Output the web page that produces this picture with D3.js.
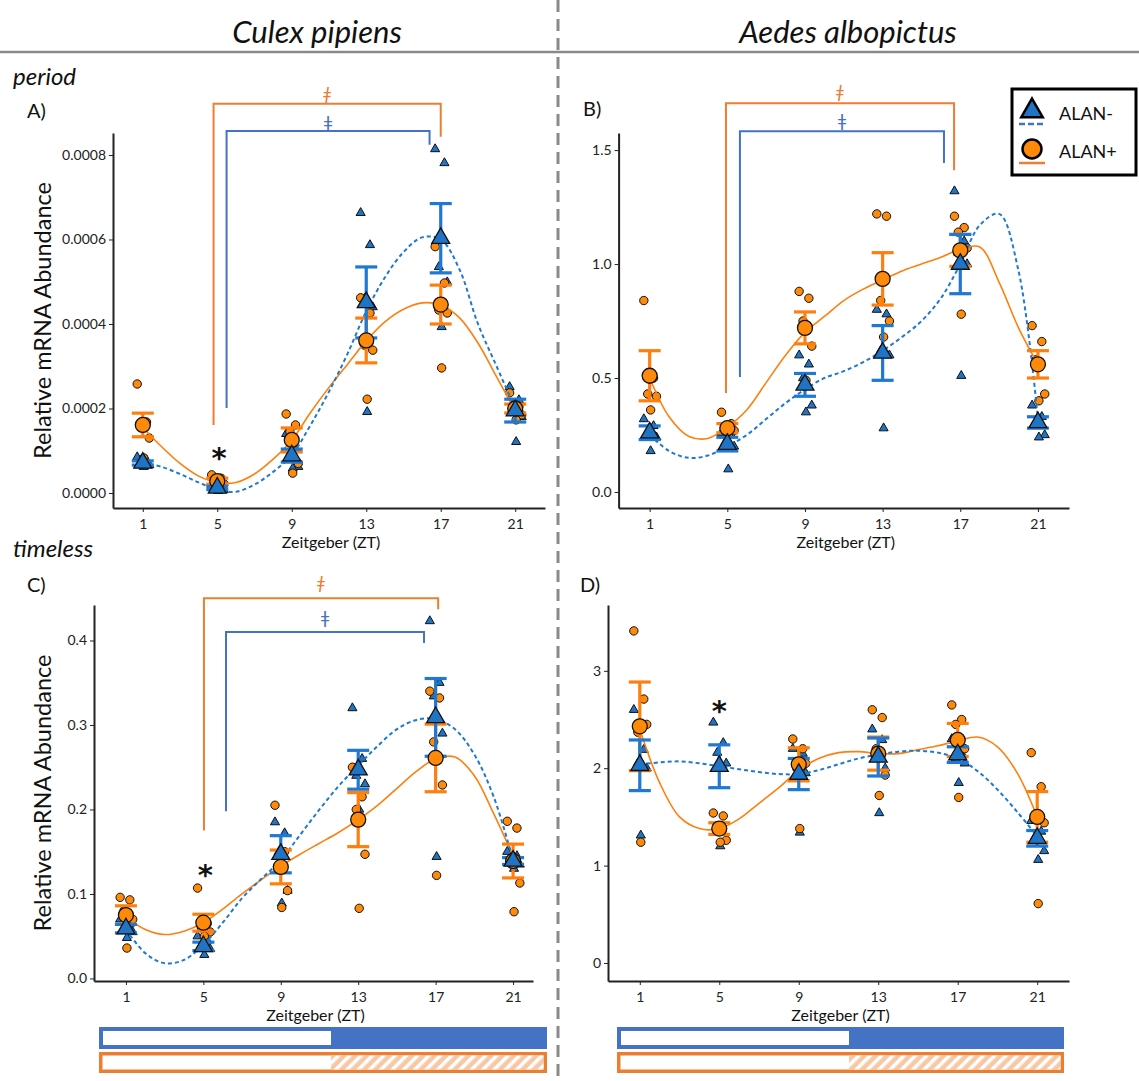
<!DOCTYPE html>
<meta charset="utf-8">
<style>
body { margin: 0; background: #fff; }
text { font-family: Lato, "Open Sans", sans-serif; fill: #111; }
.tick text { font-size: 14px; fill: #222; }
.axis path, .axis line { stroke: #222; }
</style>
<svg width="1139" height="1081"></svg>
<script src="https://d3js.org/d3.v7.min.js"></script>
<script>

// ---- data ----
var zt = [1, 5, 9, 13, 17, 21];
var curveZt = [1,2,3,4,5,6,7,8,9,10,11,12,13,14,15,16,17,18,19,20,21];

// A: Culex pipiens, period
var perCulMinusMean = [0.71e-4, 0.12e-4, 0.885e-4, 4.51e-4, 6.03e-4, 1.95e-4];
var perCulMinusSe   = [0.05e-4, 0.04e-4, 0.155e-4, 0.84e-4, 0.82e-4, 0.27e-4];
var perCulPlusMean  = [1.61e-4, 0.28e-4, 1.255e-4, 3.61e-4, 4.46e-4, 2.0e-4];
var perCulPlusSe    = [0.28e-4, 0.07e-4, 0.285e-4, 0.53e-4, 0.46e-4, 0.105e-4];
var perCulMinusPts = [[0.85e-4,0.78e-4,0.72e-4,0.66e-4,0.62e-4],[0.18e-4,0.14e-4,0.1e-4,0.07e-4,0.05e-4],
  [1.4e-4,1.05e-4,0.9e-4,0.62e-4,0.58e-4],[6.63e-4,5.87e-4,4.6e-4,4.4e-4,1.92e-4],
  [8.14e-4,7.81e-4,5.35e-4,4.99e-4,3.93e-4],[2.51e-4,2.2e-4,1.9e-4,1.8e-4,1.21e-4]];
var perCulPlusPts = [[2.58e-4,1.68e-4,1.55e-4,1.3e-4,0.83e-4],[0.43e-4,0.35e-4,0.3e-4,0.22e-4,0.18e-4],
  [1.87e-4,1.61e-4,1.45e-4,0.7e-4,0.47e-4],[4.62e-4,4.26e-4,3.5e-4,3.38e-4,2.22e-4],
  [5.83e-4,4.97e-4,4.33e-4,4.26e-4,2.96e-4],[2.37e-4,2.05e-4,1.95e-4,1.85e-4,1.73e-4]];
var perCulMinusCurve = [0.72e-4,0.62e-4,0.45e-4,0.25e-4,0.08e-4,0.03e-4,0.2e-4,0.5e-4,0.9e-4,1.6e-4,2.4e-4,
  3.3e-4,4.3e-4,5.1e-4,5.7e-4,6.05e-4,6.0e-4,5.3e-4,4.0e-4,3.0e-4,2.0e-4];
var perCulPlusCurve = [1.55e-4,1.1e-4,0.7e-4,0.4e-4,0.25e-4,0.25e-4,0.45e-4,0.8e-4,1.25e-4,1.9e-4,2.5e-4,
  3.05e-4,3.6e-4,4.05e-4,4.35e-4,4.5e-4,4.45e-4,4.15e-4,3.55e-4,2.75e-4,1.95e-4];

// B: Aedes albopictus, period
var perAedMinusMean = [0.26, 0.21, 0.47, 0.61, 1.0, 0.305];
var perAedMinusSe   = [0.03, 0.03, 0.05, 0.12, 0.13, 0.025];
var perAedPlusMean  = [0.51, 0.28, 0.72, 0.935, 1.06, 0.56];
var perAedPlusSe    = [0.11, 0.02, 0.07, 0.115, 0.07, 0.06];
var perAedMinusPts = [[0.32,0.29,0.26,0.24,0.18],[0.26,0.25,0.22,0.2,0.10],[0.60,0.56,0.5,0.38,0.35],
  [0.80,0.78,0.62,0.6,0.28],[1.32,1.1,1.05,1.0,0.51],[0.38,0.33,0.3,0.25,0.24]];
var perAedPlusPts = [[0.84,0.5,0.43,0.42,0.36],[0.35,0.3,0.28,0.27,0.25],[0.88,0.85,0.75,0.64,0.49],
  [1.22,1.21,0.84,0.75,0.68],[1.21,1.16,1.14,1.07,0.78],[0.73,0.66,0.58,0.43,0.40]];
var perAedMinusCurve = [0.25,0.18,0.15,0.16,0.2,0.25,0.32,0.39,0.45,0.5,0.53,0.57,0.62,0.68,0.75,0.85,
  1.0,1.17,1.22,0.97,0.32];
var perAedPlusCurve = [0.5,0.33,0.245,0.235,0.285,0.36,0.48,0.6,0.7,0.77,0.84,0.89,0.93,0.97,1.0,1.03,
  1.065,1.075,0.92,0.72,0.56];

// C: Culex pipiens, timeless
var timCulMinusMean = [0.059, 0.038, 0.147, 0.247, 0.309, 0.139];
var timCulMinusSe   = [0.005, 0.005, 0.022, 0.023, 0.046, 0.004];
var timCulPlusMean  = [0.075, 0.066, 0.132, 0.188, 0.261, 0.139];
var timCulPlusSe    = [0.011, 0.01, 0.02, 0.032, 0.04, 0.02];
var timCulMinusPts = [[0.07,0.065,0.06,0.055,0.048],[0.05,0.045,0.04,0.035,0.028],[0.185,0.172,0.15,0.104,0.089],
  [0.32,0.26,0.24,0.23,0.2],[0.423,0.35,0.334,0.29,0.144],[0.15,0.145,0.14,0.135,0.13]];
var timCulPlusPts = [[0.096,0.093,0.08,0.07,0.036],[0.107,0.065,0.06,0.055,0.05],[0.205,0.15,0.13,0.104,0.084],
  [0.25,0.215,0.2,0.147,0.083],[0.34,0.332,0.28,0.229,0.122],[0.186,0.178,0.14,0.113,0.079]];
var timCulMinusCurve = [0.058,0.03,0.018,0.022,0.04,0.066,0.095,0.118,0.14,0.17,0.2,0.228,0.252,0.275,
  0.295,0.306,0.307,0.295,0.265,0.215,0.14];
var timCulPlusCurve = [0.073,0.058,0.052,0.056,0.066,0.082,0.1,0.117,0.133,0.147,0.16,0.173,0.188,0.205,
  0.225,0.245,0.26,0.262,0.24,0.195,0.145];

// D: Aedes albopictus, timeless
var timAedMinusMean = [2.03, 2.02, 1.94, 2.115, 2.14, 1.28];
var timAedMinusSe   = [0.26, 0.22, 0.16, 0.195, 0.08, 0.08];
var timAedPlusMean  = [2.43, 1.38, 2.04, 2.15, 2.29, 1.5];
var timAedPlusSe    = [0.455, 0.06, 0.17, 0.17, 0.17, 0.26];
var timAedMinusPts = [[2.6,2.19,2.05,2.0,1.31],[2.47,2.26,2.16,2.05,1.2],[2.2,2.15,1.9,1.95,1.34],
  [2.4,2.29,2.1,2.0,1.54],[2.3,2.15,2.1,2.05,1.85],[1.46,1.35,1.3,1.15,1.06]];
var timAedPlusPts = [[3.41,2.71,2.37,2.45,1.24],[1.54,1.51,1.35,1.26,1.24],[2.3,2.2,2.0,2.05,1.38],
  [2.6,2.52,2.2,1.93,1.72],[2.65,2.5,2.45,2.2,1.7],[2.16,1.81,1.5,1.44,0.61]];
var timAedMinusCurve = [2.04,2.06,2.07,2.05,2.02,1.99,1.96,1.94,1.94,1.98,2.04,2.1,2.14,2.17,2.18,2.16,
  2.1,1.97,1.78,1.55,1.3];
var timAedPlusCurve = [2.4,1.85,1.5,1.38,1.38,1.48,1.64,1.8,1.98,2.1,2.16,2.17,2.15,2.15,2.19,2.23,2.28,
  2.32,2.22,1.95,1.5];

// significance brackets (data units) and asterisks
var bracketsA = [{g:"plus", x0:4.8, x1:17.0, top:9.21e-4, l:1.61e-4, r:8.43e-4, mark:9.44e-4},
                 {g:"minus", x0:5.5, x1:16.4, top:8.57e-4, l:2.01e-4, r:8.24e-4, mark:8.76e-4}];
var bracketsB = [{g:"plus", x0:4.93, x1:16.68, top:1.706, l:0.434, r:1.412, mark:1.754},
                 {g:"minus", x0:5.65, x1:16.16, top:1.583, l:0.504, r:1.443, mark:1.63}];
var bracketsC = [{g:"plus", x0:5.03, x1:17.13, top:0.450, l:0.175, r:0.437, mark:0.468},
                 {g:"minus", x0:6.17, x1:16.4, top:0.41, l:0.198, r:0.397, mark:0.427}];
var starA = [{x:5.1, y:1.02e-4}];
var starC = [{x:5.1, y:0.132}];
var starD = [{x:5.0, y:2.67}];

var jitter = [-0.3, 0.2, -0.1, 0.35, 0.05];

// ---- styles ----
var col = {
  minusFill: "#1f74c6", minusLine: "#1f78d1",
  plusFill: "#ff8a0a", plusLine: "#ff7f0e",
  brMinus: "#4472c4", brPlus: "#ed7d31"
};

var svg = d3.select("svg");

var panels = [
  {name:"A)", lx:27, ly:118, xr:[113,545], yr:[508,133], yd:[-0.0000355,0.000852],
   yt:[0,0.0002,0.0004,0.0006,0.0008], fmt:".4f", ylab:true, xlabY:548,
   minus:[perCulMinusMean,perCulMinusSe,perCulMinusPts,perCulMinusCurve],
   plus:[perCulPlusMean,perCulPlusSe,perCulPlusPts,perCulPlusCurve], br:bracketsA, star:starA},
  {name:"B)", lx:583, ly:116, xr:[618.6,1069], yr:[508,133], yd:[-0.0702,1.575],
   yt:[0,0.5,1,1.5], fmt:".1f", ylab:false, xlabY:548,
   minus:[perAedMinusMean,perAedMinusSe,perAedMinusPts,perAedMinusCurve],
   plus:[perAedPlusMean,perAedPlusSe,perAedPlusPts,perAedPlusCurve], br:bracketsB, star:[]},
  {name:"C)", lx:27, ly:592, xr:[94,533], yr:[981,605], yd:[-0.003,0.442],
   yt:[0,0.1,0.2,0.3,0.4], fmt:".1f", ylab:true, xlabY:1021,
   minus:[timCulMinusMean,timCulMinusSe,timCulMinusPts,timCulMinusCurve],
   plus:[timCulPlusMean,timCulPlusSe,timCulPlusPts,timCulPlusCurve], br:bracketsC, star:starC},
  {name:"D)", lx:580, ly:592, xr:[608,1069], yr:[981,605], yd:[-0.185,3.676],
   yt:[0,1,2,3], fmt:"d", ylab:false, xlabY:1021,
   minus:[timAedMinusMean,timAedMinusSe,timAedMinusPts,timAedMinusCurve],
   plus:[timAedPlusMean,timAedPlusSe,timAedPlusPts,timAedPlusCurve], br:[], star:starD}
];

// per-panel x domains (panel C axis is slightly shorter on the right)
panels[0].xd = [-0.6, 22.6];
panels[1].xd = [-0.6, 22.6];
panels[2].xd = [-0.65, 22.03];
panels[3].xd = [-0.6, 22.6];

// ---- frame: headers, separators ----
svg.append("line").attr("x1", 0).attr("x2", 1139).attr("y1", 52).attr("y2", 52)
   .attr("stroke", "#8a8a8a").attr("stroke-width", 2.5);
svg.append("line").attr("x1", 558).attr("x2", 558).attr("y1", 0).attr("y2", 1081)
   .attr("stroke", "#8a8a8a").attr("stroke-width", 3).attr("stroke-dasharray", "12,7");

svg.append("text").attr("x", 317).attr("y", 43).attr("text-anchor", "middle")
   .style("font-size", "31px").style("font-style", "italic").text("Culex pipiens");
svg.append("text").attr("x", 848).attr("y", 43).attr("text-anchor", "middle")
   .style("font-size", "31px").style("font-style", "italic").text("Aedes albopictus");
svg.append("text").attr("x", 13).attr("y", 85)
   .style("font-size", "24px").style("font-style", "italic").text("period");
svg.append("text").attr("x", 13).attr("y", 557)
   .style("font-size", "24px").style("font-style", "italic").text("timeless");

var tri = d3.symbol().type(d3.symbolTriangle);

panels.forEach(function(p) {
  var x = d3.scaleLinear().domain(p.xd).range(p.xr);
  var y = d3.scaleLinear().domain(p.yd).range(p.yr);
  var g = svg.append("g");

  g.append("text").attr("x", p.lx).attr("y", p.ly).style("font-size", "20px").text(p.name);

  // axes
  g.append("g").attr("class", "axis").attr("transform", "translate(0," + p.yr[0] + ")")
    .call(d3.axisBottom(x).tickValues(zt).tickSize(4).tickSizeOuter(0).tickFormat(d3.format("d")))
    .call(function(a) { a.select(".domain").attr("stroke-width", 2); a.selectAll(".tick text").attr("dy", "1em"); });
  g.append("g").attr("class", "axis").attr("transform", "translate(" + p.xr[0] + ",0)")
    .call(d3.axisLeft(y).tickValues(p.yt).tickSize(4).tickSizeOuter(0).tickFormat(d3.format(p.fmt)))
    .call(function(a) { a.select(".domain").attr("stroke-width", 2); });

  g.append("text").attr("x", (p.xr[0] + p.xr[1]) / 2 + 2).attr("y", p.xlabY)
    .attr("text-anchor", "middle").style("font-size", "16px").text("Zeitgeber (ZT)");
  if (p.ylab) {
    g.append("text").attr("transform", "translate(43," + ((p.yr[0] + p.yr[1]) / 2) + ") rotate(-90)")
      .attr("text-anchor", "middle").attr("dy", "0.35em").style("font-size", "23.5px")
      .text("Relative mRNA Abundance");
  }

  // brackets
  p.br.forEach(function(b) {
    var c = b.g === "plus" ? col.brPlus : col.brMinus;
    g.append("path").attr("fill", "none").attr("stroke", c).attr("stroke-width", 2)
      .attr("d", "M" + x(b.x0) + "," + y(b.l) + "V" + y(b.top) + "H" + x(b.x1) + "V" + y(b.r));
    g.append("text").attr("x", (x(b.x0) + x(b.x1)) / 2).attr("y", y(b.mark))
      .attr("text-anchor", "middle").attr("dy", "0.35em").style("font-size", "18px")
      .style("fill", c).style("font-style", b.g === "plus" ? "italic" : "normal").text("ǂ");
  });

  p.star.forEach(function(s) {
    g.append("text").attr("x", x(s.x)).attr("y", y(s.y)).attr("text-anchor", "middle")
      .attr("dy", "0.62em").style("font-family", "DejaVu Sans").style("font-weight", "bold")
      .style("font-size", "29px").text("*");
  });

  // raw points
  function pts(group, isTri) {
    var rows = [];
    group[2].forEach(function(vals, i) {
      vals.forEach(function(v, j) { rows.push({x: zt[i] + jitter[j], y: v}); });
    });
    var sel = g.append("g").selectAll("path").data(rows).enter();
    if (isTri) {
      sel.append("path").attr("d", tri.size(36)())
        .attr("transform", function(d) { return "translate(" + x(d.x) + "," + y(d.y) + ")"; })
        .attr("fill", col.minusFill).attr("stroke", "#111").attr("stroke-width", 1);
    } else {
      sel.append("circle").attr("cx", function(d) { return x(d.x); }).attr("cy", function(d) { return y(d.y); })
        .attr("r", 4.2).attr("fill", col.plusFill).attr("stroke", "#111").attr("stroke-width", 1);
    }
  }
  pts(p.minus, true);
  pts(p.plus, false);

  // fitted curves
  var line = d3.line().curve(d3.curveCatmullRom.alpha(0.5))
    .x(function(d, i) { return x(curveZt[i]); }).y(function(d) { return y(d); });
  g.append("path").datum(p.plus[3]).attr("fill", "none").attr("stroke", col.plusLine)
    .attr("stroke-width", 1.6).attr("d", line);
  g.append("path").datum(p.minus[3]).attr("fill", "none").attr("stroke", col.minusLine)
    .attr("stroke-width", 2).attr("stroke-dasharray", "4,3").attr("d", line);

  // error bars
  function ebars(group, c) {
    var eg = g.append("g").attr("stroke", c).attr("stroke-width", 3.2);
    group[0].forEach(function(m, i) {
      var hi = y(m + group[1][i]), lo = y(m - group[1][i]), cx = x(zt[i]);
      eg.append("line").attr("x1", cx).attr("x2", cx).attr("y1", hi).attr("y2", lo);
      eg.append("line").attr("x1", cx - 11).attr("x2", cx + 11).attr("y1", hi).attr("y2", hi);
      eg.append("line").attr("x1", cx - 11).attr("x2", cx + 11).attr("y1", lo).attr("y2", lo);
    });
  }
  ebars(p.plus, col.plusLine);
  ebars(p.minus, col.minusLine);

  // means
  g.append("g").selectAll("circle").data(p.plus[0]).enter().append("circle")
    .attr("cx", function(d, i) { return x(zt[i]); }).attr("cy", function(d) { return y(d); })
    .attr("r", 7.5).attr("fill", col.plusFill).attr("stroke", "#111").attr("stroke-width", 1.3);
  g.append("g").selectAll("path").data(p.minus[0]).enter().append("path")
    .attr("d", tri.size(140)())
    .attr("transform", function(d, i) { return "translate(" + x(zt[i]) + "," + y(d) + ")"; })
    .attr("fill", col.minusFill).attr("stroke", "#111").attr("stroke-width", 1.3);
});

// ---- legend ----
var lg = svg.append("g");
lg.append("rect").attr("x", 1012).attr("y", 89).attr("width", 124).attr("height", 86)
  .attr("fill", "#fff").attr("stroke", "#000").attr("stroke-width", 3);
lg.append("path").attr("d", tri.size(200)()).attr("transform", "translate(1032,111)")
  .attr("fill", col.minusFill).attr("stroke", "#000").attr("stroke-width", 2.5);
lg.append("line").attr("x1", 1019).attr("x2", 1045).attr("y1", 124).attr("y2", 124)
  .attr("stroke", col.brMinus).attr("stroke-width", 2.5).attr("stroke-dasharray", "6,3");
lg.append("text").attr("x", 1059).attr("y", 120).style("font-size", "18px").text("ALAN-");
lg.append("circle").attr("cx", 1032).attr("cy", 149).attr("r", 9.5)
  .attr("fill", col.plusFill).attr("stroke", "#000").attr("stroke-width", 2.5);
lg.append("line").attr("x1", 1019).attr("x2", 1045).attr("y1", 163).attr("y2", 163)
  .attr("stroke", col.brPlus).attr("stroke-width", 2.5);
lg.append("text").attr("x", 1059).attr("y", 158).style("font-size", "18px").text("ALAN+");

// ---- light/dark bars ----
var defs = svg.append("defs");
var pat = defs.append("pattern").attr("id", "hatch").attr("patternUnits", "userSpaceOnUse")
  .attr("width", 8).attr("height", 8).attr("patternTransform", "rotate(45)");
pat.append("rect").attr("width", 8).attr("height", 8).attr("fill", "#f7c8a6");
pat.append("rect").attr("width", 3.5).attr("height", 8).attr("fill", "#fff");

[[99, 547, 331], [617, 1064, 849]].forEach(function(b) {
  svg.append("rect").attr("x", b[0]).attr("y", 1027).attr("width", b[1] - b[0]).attr("height", 22)
    .attr("fill", col.brMinus);
  svg.append("rect").attr("x", b[0] + 4).attr("y", 1031).attr("width", b[2] - b[0] - 4).attr("height", 14)
    .attr("fill", "#fff");
  svg.append("rect").attr("x", b[0] + 1.75).attr("y", 1053.75).attr("width", b[1] - b[0] - 3.5).attr("height", 17.5)
    .attr("fill", "#fff").attr("stroke", col.brPlus).attr("stroke-width", 3.5);
  svg.append("rect").attr("x", b[2]).attr("y", 1055.5).attr("width", b[1] - b[2] - 3.5).attr("height", 14)
    .attr("fill", "url(#hatch)");
});

</script>
